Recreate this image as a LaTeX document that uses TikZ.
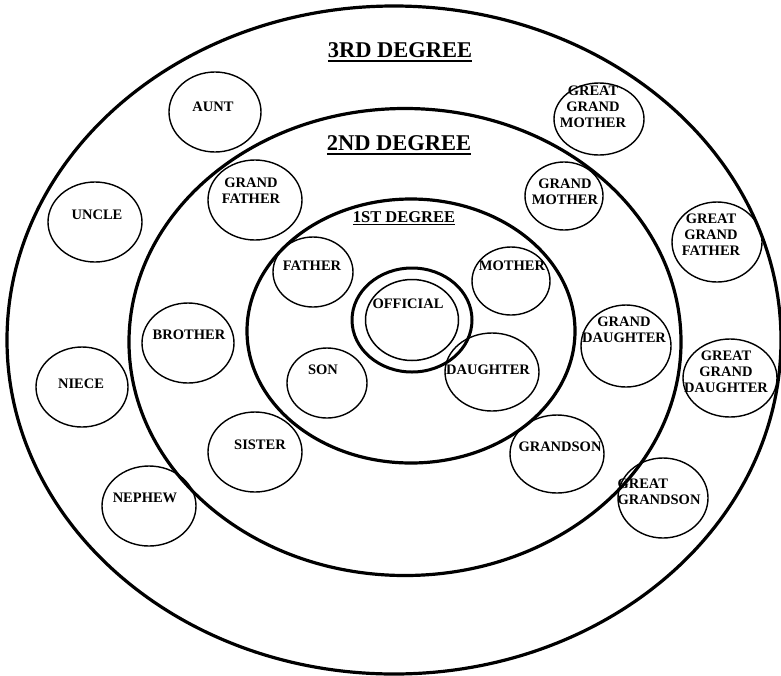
\documentclass[tikz,border=0pt]{standalone}
\usepackage{fontspec}
\setmainfont{Liberation Serif}
\usetikzlibrary{shapes.geometric}
\newcommand{\ulrule}[3]{\setbox0\hbox{#3}\rlap{\vrule width\wd0 height #1 depth #2}\box0}
\begin{document}
\begin{tikzpicture}[x=1pt,y=-1pt,
  ring/.style={draw, ellipse, line width=3.2pt, inner sep=0pt},
  rel/.style={draw, ellipse, line width=1.4pt, inner sep=0pt},
  txt/.style={font=\fontsize{14.5}{16}\selectfont\bfseries, align=center, inner sep=0pt},
  ttl/.style={font=\fontsize{22.5}{26}\selectfont\bfseries, inner sep=0pt, anchor=base}]
\useasboundingbox (0,0) rectangle (781,675);
% degree rings
\node[ring, minimum width=774pt, minimum height=668pt] (deg3) at (394,340) {};
\node[ring, minimum width=552pt, minimum height=467pt] (deg2) at (405,342) {};
\node[ring, minimum width=328pt, minimum height=264pt] (deg1) at (411,331) {};
% official
\node[rel, line width=3pt, minimum width=120pt, minimum height=104pt] (official) at (412,320) {};
\node[rel, line width=1.5pt, minimum width=93pt, minimum height=81pt] (officialIn) at (412,320) {};
\node[txt] (officialT) at (408,304) {OFFICIAL};
% titles
\node[ttl] (t3) at (400,57) {\ulrule{-3pt}{5pt}{3RD DEGREE}};
\node[ttl] (t2) at (399,150) {\ulrule{-3pt}{5pt}{2ND DEGREE}};
\node[ttl, font=\fontsize{16.5}{19}\selectfont\bfseries] (t1) at (404,222) {\ulrule{-1.5pt}{3pt}{1ST DEGREE}};
% relatives: ellipses
\node[rel, minimum width=92pt, minimum height=80pt] (aunt) at (215,112) {};
\node[rel, minimum width=90pt, minimum height=72pt] (ggm) at (599,119) {};
\node[rel, minimum width=94pt, minimum height=80pt] (gf) at (255,200) {};
\node[rel, minimum width=78pt, minimum height=68pt] (gm) at (564,196) {};
\node[rel, minimum width=94pt, minimum height=80pt] (uncle) at (95,222) {};
\node[rel, minimum width=90pt, minimum height=80pt] (ggf) at (717,242) {};
\node[rel, minimum width=80pt, minimum height=70pt] (father) at (313,272) {};
\node[rel, minimum width=78pt, minimum height=68pt] (mother) at (511,281) {};
\node[rel, minimum width=92pt, minimum height=80pt] (brother) at (188,343) {};
\node[rel, minimum width=90pt, minimum height=82pt] (gd) at (626,346) {};
\node[rel, minimum width=94pt, minimum height=78pt] (ggd) at (730,378) {};
\node[rel, minimum width=92pt, minimum height=80pt] (niece) at (82,387) {};
\node[rel, minimum width=80pt, minimum height=70pt] (son) at (327,383) {};
\node[rel, minimum width=94pt, minimum height=78pt] (daughter) at (492,372) {};
\node[rel, minimum width=94pt, minimum height=80pt] (sister) at (255,452) {};
\node[rel, minimum width=94pt, minimum height=78pt] (grandson) at (557,454) {};
\node[rel, minimum width=94pt, minimum height=80pt] (nephew) at (149,506) {};
\node[rel, minimum width=90pt, minimum height=80pt] (ggs) at (663,498) {};
% relatives: texts
\node[txt] (auntT) at (213,107) {AUNT};
\node[txt] (ggmT) at (593,107) {GREAT\\GRAND\\MOTHER};
\node[txt] (gfT) at (251,191) {GRAND\\FATHER};
\node[txt] (gmT) at (565,192) {GRAND\\MOTHER};
\node[txt] (uncleT) at (97,215) {UNCLE};
\node[txt] (ggfT) at (711,235) {GREAT\\GRAND\\FATHER};
\node[txt] (fatherT) at (312,266) {FATHER};
\node[txt] (motherT) at (512,266) {MOTHER};
\node[txt] (brotherT) at (189,335) {BROTHER};
\node[txt] (gdT) at (624,330) {GRAND\\DAUGHTER};
\node[txt] (ggdT) at (726,372) {GREAT\\GRAND\\DAUGHTER};
\node[txt] (nieceT) at (81,384) {NIECE};
\node[txt] (sonT) at (323,370) {SON};
\node[txt] (daughterT) at (488,370) {DAUGHTER};
\node[txt] (sisterT) at (260,445) {SISTER};
\node[txt] (grandsonT) at (560,447) {GRANDSON};
\node[txt] (nephewT) at (145,498) {NEPHEW};
\node[txt, align=left] (ggsT) at (659,492) {GREAT\\GRANDSON};
\end{tikzpicture}
\end{document}
